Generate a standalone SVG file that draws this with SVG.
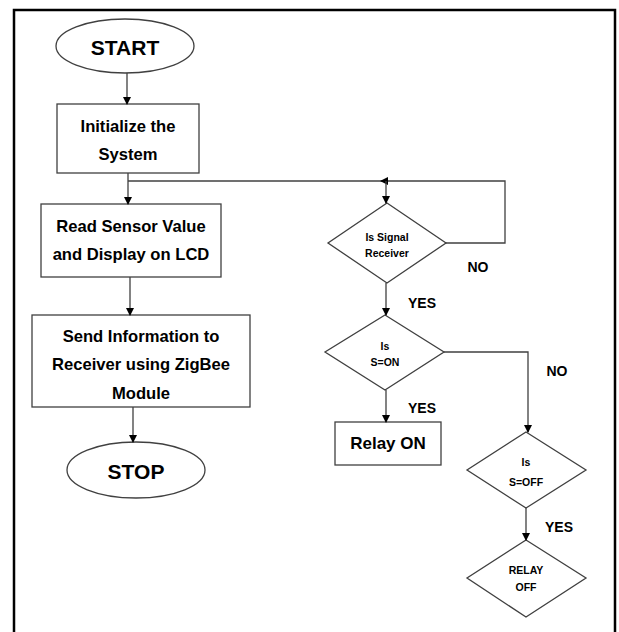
<svg xmlns="http://www.w3.org/2000/svg" width="619" height="632" viewBox="0 0 619 632">
<defs>
<marker id="ah" markerWidth="8" markerHeight="8" refX="7" refY="4" orient="auto" markerUnits="userSpaceOnUse">
<path d="M0,0 L8,4 L0,8 Z" fill="#000"/>
</marker>
</defs>
<style>
.shape{fill:#fff;stroke:#404040;stroke-width:1.3}
.conn{fill:none;stroke:#404040;stroke-width:1.3}
text{font-family:"Liberation Sans",Arial,sans-serif;font-weight:bold;fill:#000;text-anchor:middle;dominant-baseline:central}
.big{font-size:21px}
.mid{font-size:16.6px}
.rel{font-size:17px}
.sm{font-size:10.5px}
.lbl{font-size:14px}
</style>
<rect width="619" height="632" fill="#fff"/>
<path d="M14,632 V10 H615 V632" fill="none" stroke="#000" stroke-width="2.5"/>

<g id="start"><ellipse class="shape" cx="125" cy="46" rx="69" ry="27"/><text class="big" x="125" y="47">START</text></g>
<g id="init"><rect class="shape" x="57" y="104" width="142" height="69"/><text class="mid" x="128" y="126">Initialize the</text><text class="mid" x="128" y="154">System</text></g>
<g id="read"><rect class="shape" x="41" y="204" width="180" height="73"/><text class="mid" x="131" y="226">Read Sensor Value</text><text class="mid" x="131" y="254">and Display on LCD</text></g>
<g id="send"><rect class="shape" x="32" y="315" width="218" height="92"/><text class="mid" x="141" y="336">Send Information to</text><text class="mid" x="141" y="364">Receiver using ZigBee</text><text class="mid" x="141" y="393">Module</text></g>
<g id="stop"><ellipse class="shape" cx="136" cy="470" rx="69" ry="28"/><text class="big" x="136" y="471">STOP</text></g>

<g id="d1"><polygon class="shape" points="387,203 446,243 387,283 328,243"/><text class="sm" x="387" y="237">Is Signal</text><text class="sm" x="387" y="253">Receiver</text></g>
<g id="d2"><polygon class="shape" points="385,315 444,352 385,390 325,352"/><text class="sm" x="385" y="346">Is</text><text class="sm" x="385" y="362">S=ON</text></g>
<g id="relayon"><rect class="shape" x="335" y="422" width="106" height="43"/><text class="rel" x="388" y="443">Relay ON</text></g>
<g id="d3"><polygon class="shape" points="526,432 586,470 526,508 467,470"/><text class="sm" x="526" y="462">Is</text><text class="sm" x="526" y="482">S=OFF</text></g>
<g id="d4"><polygon class="shape" points="526,540 586,578 526,617 467,578"/><text class="sm" x="526" y="570">RELAY</text><text class="sm" x="526" y="587">OFF</text></g>

<g id="connectors">
<path class="conn" d="M127,73 V104" marker-end="url(#ah)"/>
<path class="conn" d="M128,173 V204" marker-end="url(#ah)"/>
<path class="conn" d="M128,181 H386"/>
<path class="conn" d="M446,243 H505 V181 H381" marker-end="url(#ah)"/>
<path class="conn" d="M386,181 V203" marker-end="url(#ah)"/>
<path class="conn" d="M130,277 V315" marker-end="url(#ah)"/>
<path class="conn" d="M133,407 V442" marker-end="url(#ah)"/>
<path class="conn" d="M386,283 V315" marker-end="url(#ah)"/>
<path class="conn" d="M386,390 V422" marker-end="url(#ah)"/>
<path class="conn" d="M444,352 H528 V432" marker-end="url(#ah)"/>
<path class="conn" d="M526,508 V540" marker-end="url(#ah)"/>
<text class="lbl" x="478" y="267">NO</text>
<text class="lbl" x="422" y="303">YES</text>
<text class="lbl" x="557" y="371">NO</text>
<text class="lbl" x="422" y="408">YES</text>
<text class="lbl" x="559" y="527">YES</text>
</g>
</svg>
